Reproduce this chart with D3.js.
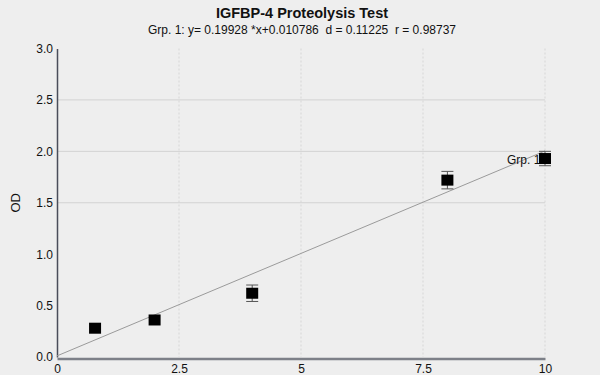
<!DOCTYPE html>
<html><head><meta charset="utf-8">
<script src="https://cdn.jsdelivr.net/npm/d3@7"></script>
<style>
html,body{margin:0;padding:0;background:#eeeeee;}
svg{display:block;font-family:"Liberation Sans",Arial,sans-serif;}
</style></head>
<body><svg id="c" width="600" height="375"></svg>
<script>
const title = "IGFBP-4 Proteolysis Test";
const subtitle = "Grp. 1: y= 0.19928 *x+0.010786  d = 0.11225  r = 0.98737";
const xValues = [0.78, 2, 4, 8, 10];
const yValues = [0.28, 0.36, 0.62, 1.72, 1.93];
const yErrors = [0, 0, 0.08, 0.085, 0.07];
const slope = 0.19928, intercept = 0.010786;
const xTicks = [0, 2.5, 5, 7.5, 10];
const xTickLabels = ["0", "2.5", "5", "7.5", "10"];
const yTicks = [0, 0.5, 1.0, 1.5, 2.0, 2.5, 3.0];
const yGrid = [1.5, 2.0, 2.5];
const xGrid = [2.5, 5, 7.5, 10];
const seriesName = "Grp. 1";

const svg = d3.select("#c");
const x = d3.scaleLinear().domain([0, 10]).range([57, 545]);
const y = d3.scaleLinear().domain([0, 3]).range([357, 48.5]);

svg.append("rect").attr("width",600).attr("height",375).attr("fill","#eeeeee");

// grid
svg.append("g").selectAll("line").data(yGrid).join("line")
  .attr("x1", x(0)).attr("x2", x(10)).attr("y1", d=>y(d)).attr("y2", d=>y(d))
  .attr("stroke","#d2d2d2").attr("stroke-width",1);
svg.append("g").selectAll("line").data(xGrid).join("line")
  .attr("x1", d=>x(d)).attr("x2", d=>x(d)).attr("y1", y(3)).attr("y2", y(0))
  .attr("stroke","#d6d6d6").attr("stroke-width",1).attr("stroke-dasharray","2,2");

// axes
const yAxis = d3.axisLeft(y).tickValues(yTicks).tickFormat(d3.format(".1f")).tickSize(0).tickPadding(4);
const gy = svg.append("g").attr("transform",`translate(${x(0)},0)`).call(yAxis);
gy.select(".domain").attr("stroke","#4a4d5a").attr("stroke-width",1.5);
gy.selectAll("text").attr("font-size",12).attr("fill","#111").attr("font-family","Liberation Sans, Arial, sans-serif");

const xAxis = d3.axisBottom(x).tickValues(xTicks).tickFormat((d,i)=>xTickLabels[i]).tickSize(0).tickPadding(6);
const gx = svg.append("g").attr("transform",`translate(0,${y(0)+1.5})`).call(xAxis);
gx.select(".domain").attr("stroke","#7d8088").attr("stroke-width",2.5);
gx.selectAll("text").attr("font-size",12).attr("fill","#111").attr("font-family","Liberation Sans, Arial, sans-serif");

// titles
svg.append("text").attr("x",302).attr("y",18).attr("text-anchor","middle")
  .attr("font-size",14.5).attr("font-weight","bold").attr("fill","#111").text(title);
svg.append("text").attr("x",302).attr("y",34).attr("text-anchor","middle")
  .attr("font-size",12).attr("fill","#111").style("white-space","pre").text(subtitle);
svg.append("text").attr("transform",`translate(20,${y(1.5)}) rotate(-90)`).attr("text-anchor","middle")
  .attr("font-size",13).attr("fill","#111").text("OD");

// regression line
svg.append("line").attr("x1",x(0)).attr("y1",y(intercept)).attr("x2",x(10)).attr("y2",y(intercept+slope*10))
  .attr("stroke","#9a9a9a").attr("stroke-width",1);

// series label
svg.append("text").attr("x", x(10)+2).attr("y", y(yValues[4])+5).attr("text-anchor","end")
  .attr("font-size",12).attr("fill","#111").text(seriesName + " .");

const pts = xValues.map((v,i)=>({x:v,y:yValues[i],e:yErrors[i]}));
// error bars
const eb = svg.append("g").selectAll("g").data(pts.filter(d=>d.e>0)).join("g").attr("stroke","#555").attr("stroke-width",1);
eb.append("line").attr("x1",d=>x(d.x)).attr("x2",d=>x(d.x)).attr("y1",d=>y(d.y-d.e)).attr("y2",d=>y(d.y+d.e));
eb.append("line").attr("x1",d=>x(d.x)-6).attr("x2",d=>x(d.x)+6).attr("y1",d=>y(d.y-d.e)).attr("y2",d=>y(d.y-d.e));
eb.append("line").attr("x1",d=>x(d.x)-6).attr("x2",d=>x(d.x)+6).attr("y1",d=>y(d.y+d.e)).attr("y2",d=>y(d.y+d.e));

// markers
svg.append("g").selectAll("rect").data(pts).join("rect")
  .attr("x",d=>x(d.x)-6).attr("y",d=>y(d.y)-5.5).attr("width",12).attr("height",11).attr("fill","#000");
</script></body></html>
